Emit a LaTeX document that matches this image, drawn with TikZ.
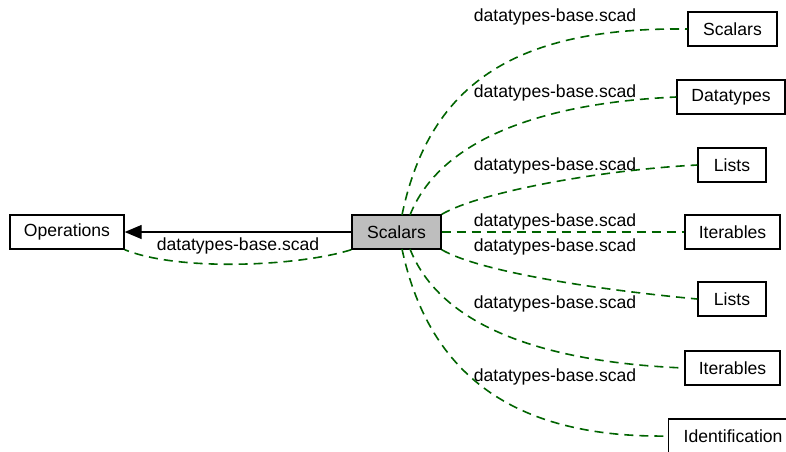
\documentclass[tikz,border=0pt]{standalone}
\usepackage{fontspec}
\setmainfont{Liberation Sans}
\usetikzlibrary{arrows.meta}
\definecolor{linkgreen}{HTML}{006400}
\definecolor{boxgray}{HTML}{BEBEBE}
\tikzset{
  box/.style={draw=black, line width=1.4pt, fill=white, minimum height=34pt,
    inner sep=0pt, font=\fontsize{17.6}{20}\selectfont},
  link/.style={draw=linkgreen, line width=1.6pt, dash pattern=on 9pt off 6pt},
  lbl/.style={font=\fontsize{17.6}{20}\selectfont, inner sep=0pt, text=black},
}
\begin{document}
\begin{tikzpicture}[x=1pt, y=-1pt]
\useasboundingbox (0,0) rectangle (786,451);
\fill[white] (0,0) rectangle (786,451);

% nodes
\node[box, minimum width=114pt] (ops) at (67,232) {Operations};
\node[box, minimum width=89pt, fill=boxgray] (sc) at (396.5,232) {Scalars};
\node[box, minimum width=89pt] (t1) at (732.5,29) {Scalars};
\node[box, minimum width=108pt] (t2) at (731,97) {Datatypes};
\node[box, minimum width=68pt] (t3) at (732,165) {Lists};
\node[box, minimum width=95pt] (t4) at (732.5,232) {Iterables};
\node[box, minimum width=68pt] (t5) at (732,299) {Lists};
\node[box, minimum width=95pt] (t6) at (732.5,368) {Iterables};
\node[box, inner xsep=15pt, anchor=west] (t7) at (668,436) {Identification};

% inheritance arrow
\draw[line width=1.4pt, -{Triangle[length=17pt,width=14pt]}] (sc.west) -- (ops.east);

% dashed links
\draw[link] (sc.south west) .. controls (300,266) and (180,272) .. (ops.south east);
\draw[link] (402,215) .. controls (430,80) and (520,27) .. (t1.west);
\draw[link] (410,215) .. controls (440,140) and (540,103) .. (t2.west);
\draw[link] (sc.north east) .. controls (480,192) and (600,170) .. (t3.west);
\draw[link] (sc.east) -- (t4.west);
\draw[link] (sc.south east) .. controls (480,272) and (600,290) .. (t5.west);
\draw[link] (410,249) .. controls (440,325) and (540,362) .. (t6.west);
\draw[link] (402,249) .. controls (430,380) and (520,438) .. (t7.west);

% link labels
\node[lbl] (l0) at (238,246) {datatypes-base.scad};
\node[lbl] (l1) at (555,17) {datatypes-base.scad};
\node[lbl] (l2) at (555,93) {datatypes-base.scad};
\node[lbl] (l3) at (555,166) {datatypes-base.scad};
\node[lbl] (l4) at (555,222) {datatypes-base.scad};
\node[lbl] (l5) at (555,247) {datatypes-base.scad};
\node[lbl] (l6) at (555,304) {datatypes-base.scad};
\node[lbl] (l7) at (555,377) {datatypes-base.scad};
\end{tikzpicture}
\end{document}
